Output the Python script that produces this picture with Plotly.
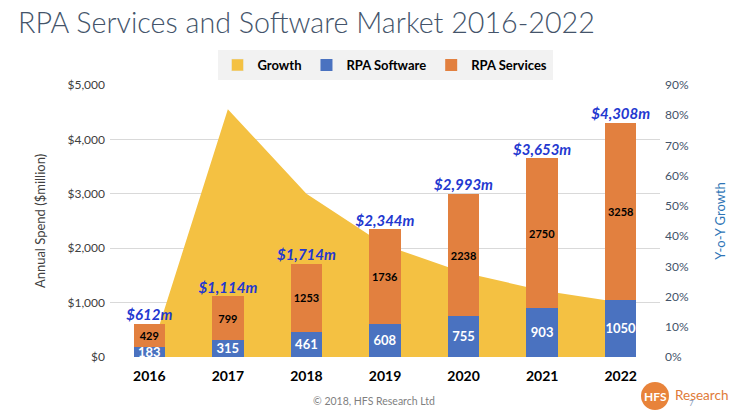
import plotly.graph_objects as go

years = ['2016', '2017', '2018', '2019', '2020', '2021', '2022']
software = [183, 315, 461, 608, 755, 903, 1050]
services = [429, 799, 1253, 1736, 2238, 2750, 3258]
totals = [612, 1114, 1714, 2344, 2993, 3653, 4308]
total_labels = ['$612m', '$1,114m', '$1,714m', '$2,344m', '$2,993m', '$3,653m', '$4,308m']
growth = [0, 82, 54, 37, 28, 22, 18]

W, H = 750, 415
OFF = 8  # page body margin offset of the figure div
# target plot area in page pixels: x 110..660, y 85..357
L = 110 - OFF
T = 85 - OFF
R = W - (660 - OFF)
B = H - (357 - OFF)
PW, PH = W - L - R, H - T - B


def px(X):
    return (X - OFF - L) / PW


def py(Y):
    return (H - B - (Y - OFF)) / PH


FONT = 'Lato'
C_GROWTH = '#F4C142'
C_SOFT = '#4A72C0'
C_SERV = '#E2803F'

fig = go.Figure()
# legend entry for Growth (square swatch like the original)
fig.add_trace(go.Bar(x=[years[0]], y=[None], name='Growth', marker=dict(color=C_GROWTH),
                     yaxis='y', hoverinfo='skip'))
fig.add_trace(go.Scatter(
    x=years, y=growth, name='Growth', mode='lines', fill='tozeroy',
    line=dict(width=0, color=C_GROWTH), fillcolor=C_GROWTH, showlegend=False,
    yaxis='y', hoverinfo='skip'))
fig.add_trace(go.Bar(
    x=years, y=software, name='RPA Software', marker=dict(color=C_SOFT, line=dict(width=0)),
    text=[str(v) for v in software], textposition='inside', insidetextanchor='middle',
    constraintext='none', textangle=0,
    textfont=dict(family=FONT, size=13, color='white', weight='bold'), yaxis='y2'))
fig.add_trace(go.Bar(
    x=years, y=services, name='RPA Services', marker=dict(color=C_SERV, line=dict(width=0)),
    text=[str(v) for v in services], textposition='inside', insidetextanchor='middle',
    constraintext='none', textangle=0,
    textfont=dict(family=FONT, size=11, color='black', weight='bold'), yaxis='y2'))
fig.add_trace(go.Scatter(
    x=years, y=totals, mode='text', text=total_labels, textposition='top center',
    textfont=dict(family=FONT, size=15, color='#2338D0', weight='bold', style='italic'),
    showlegend=False, yaxis='y2', hoverinfo='skip'))


def note(text, X, Y, **font):
    return dict(text=text, xref='paper', yref='paper', x=px(X), y=py(Y),
                xanchor='center', yanchor='middle', showarrow=False,
                font=dict(family=FONT, **font))


fig.update_layout(
    width=W, height=H, margin=dict(l=L, r=R, t=T, b=B, autoexpand=False),
    paper_bgcolor='white', plot_bgcolor='white',
    barmode='stack', bargap=0.6,
    font=dict(family=FONT, color='#404040'),
    title=dict(text='RPA Services and Software Market 2016-2022', x=(18 - OFF) / W, xanchor='left',
               y=1 - (23 - OFF) / H, yanchor='middle',
               font=dict(family=FONT, size=28.7, color='#44546A', weight=300)),
    legend=dict(orientation='h', x=0.5, xanchor='center', y=py(65), yanchor='middle',
                bgcolor='#F2F2F2', font=dict(family=FONT, size=13, color='black', weight='bold'),
                traceorder='normal', itemwidth=30),
    xaxis=dict(type='category', showgrid=False, showline=False, ticks='', ticklabelstandoff=9,
               tickfont=dict(family=FONT, size=14, color='black', weight='bold')),
    yaxis=dict(side='right', range=[0, 90], dtick=10, ticksuffix='%', showgrid=False,
               zeroline=False, showline=False, ticklabelstandoff=4,
               tickfont=dict(family=FONT, size=12, color='#44546A'),
               title=dict(text='Y-o-Y Growth', font=dict(family=FONT, size=13, color='#2E75B6'),
                          standoff=27)),
    yaxis2=dict(side='left', overlaying='y', range=[0, 5000], dtick=1000, tickprefix='$',
                tickformat=',d', showgrid=True, gridcolor='#D9D9D9', gridwidth=1,
                zeroline=False, showline=False, ticklabelstandoff=4,
                tickfont=dict(family=FONT, size=12, color='#404040'),
                title=dict(text='Annual Spend ($million)', font=dict(family=FONT, size=13, color='#404040'),
                           standoff=18)),
    shapes=[dict(type='circle', xref='paper', yref='paper',
                 x0=px(641), x1=px(669), y0=py(410), y1=py(382),
                 fillcolor='#E8833A', line=dict(width=0))],
    annotations=[
        note('© 2018, HFS Research Ltd', 374, 401, size=10.5, color='#7F7F7F'),
        note('HFS', 655, 396, size=12, color='white', weight='bold'),
        note('Research', 701, 395, size=13.5, color='#E07B39'),
        note('7', 691, 403, size=8, color='#8899BB'),
    ],
)

fig.write_html('out.html')
